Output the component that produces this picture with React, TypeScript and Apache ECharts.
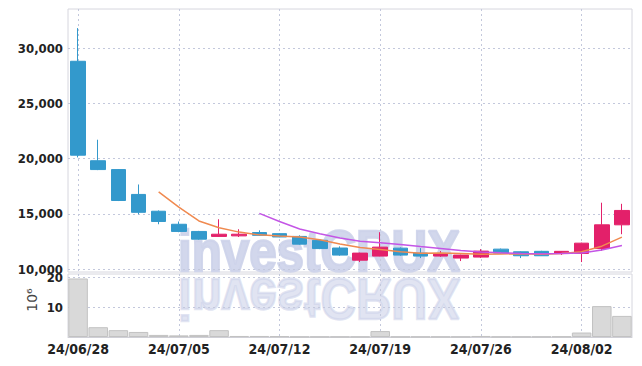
import React, { useEffect, useRef } from 'react';
import * as echarts from 'echarts';

const dates = [
  '24/06/28', '24/07/01', '24/07/02', '24/07/03', '24/07/04', '24/07/05',
  '24/07/08', '24/07/09', '24/07/10', '24/07/11', '24/07/12',
  '24/07/15', '24/07/16', '24/07/17', '24/07/18', '24/07/19',
  '24/07/22', '24/07/23', '24/07/24', '24/07/25', '24/07/26',
  '24/07/29', '24/07/30', '24/07/31', '24/08/01', '24/08/02',
  '24/08/05', '24/08/06',
];
const opens = [28800, 19800, 19000, 16750, 15230, 14050, 13400, 12950, 13000, 13300, 13200, 12950, 12600, 11900, 10800, 11170, 11890, 11440, 11170, 10990, 11080, 11800, 11560, 11600, 11400, 11410, 11850, 14000];
const closes = [20300, 19000, 16200, 15130, 14300, 13400, 12700, 13150, 13150, 13050, 12900, 12250, 11850, 11260, 11440, 11980, 11260, 11170, 11350, 11260, 11620, 11440, 11200, 11200, 11600, 12340, 14000, 15300];
const lows = [20100, 18950, 16150, 14950, 14050, 13330, 12650, 12900, 12900, 13000, 12880, 12200, 11800, 11200, 10630, 11150, 11200, 10990, 11100, 10720, 11000, 11400, 10990, 11180, 11270, 10630, 11650, 13150];
const highs = [31800, 21700, 19050, 17650, 15300, 14300, 13450, 14500, 13600, 13500, 13250, 13050, 12650, 12050, 11480, 13330, 11950, 11890, 11620, 11300, 11800, 11850, 11600, 11650, 11620, 12380, 16000, 15900];
const volumes = [19.7, 3.3, 2.3, 1.7, 0.7, 0.55, 0.7, 2.3, 0.35, 0.35, 0.25, 0.1, 0.1, 0.1, 0.1, 2.0, 0.1, 0.1, 0.1, 0.1, 0.35, 0.1, 0.1, 0.1, 0.15, 1.5, 10.4, 7.1];
const priceTicks = [10000, 15000, 20000, 25000, 30000];
const volumeTicks = [10, 20];

function movingAverage(n: number): (number | string)[] {
  return closes.map((_, i) => {
    if (i < n - 1) return '-';
    let s = 0;
    for (let k = i - n + 1; k <= i; k++) s += closes[k];
    return s / n;
  });
}

const FONT = '"DejaVu Sans Condensed", "Liberation Sans", sans-serif';
const GRID_LINE = { show: true, lineStyle: { color: '#c3c8dc', type: [2, 3] as any, width: 1 } };
const WM_FONT = 'bold 58px "Liberation Sans", Arial, sans-serif';
const WM_STYLE = { text: 'investCRUX', font: WM_FONT, fill: '#cdd3ea', stroke: '#cdd3ea', lineWidth: 2.5, align: 'center', verticalAlign: 'bottom' };

export default function App() {
  const ref = useRef<HTMLDivElement>(null);
  useEffect(() => {
    if (!ref.current) return;
    const chart = echarts.init(ref.current, null, { renderer: 'svg' });
    const every5 = (i: number) => i % 5 === 0;
    const labelStyle = { fontFamily: FONT, fontSize: 13, fontWeight: 'bold', color: '#222', margin: 5 };
    chart.setOption({
      animation: false,
      backgroundColor: '#ffffff',
      grid: [
        { left: 68, right: 10, top: 9, height: 263, show: true, borderColor: '#d6d6de', borderWidth: 1, backgroundColor: 'transparent' },
        { left: 68, right: 10, top: 274, height: 63, show: true, borderColor: '#d6d6de', borderWidth: 1, backgroundColor: 'transparent' },
      ],
      xAxis: [
        {
          type: 'category', gridIndex: 0, data: dates, boundaryGap: true,
          axisLine: { show: false }, axisTick: { show: false }, axisLabel: { show: false },
          splitLine: { ...GRID_LINE, interval: every5, alignWithLabel: true },
        },
        {
          type: 'category', gridIndex: 1, data: dates, boundaryGap: true,
          axisLine: { show: true, lineStyle: { color: '#cfcfd6' } }, axisTick: { show: false },
          axisLabel: { show: true, interval: every5, ...labelStyle, fontSize: 14, margin: 5 },
          splitLine: { ...GRID_LINE, interval: every5, alignWithLabel: true },
        },
      ],
      yAxis: [
        {
          type: 'value', gridIndex: 0, min: 9730, max: 33530,
          axisLine: { show: false }, axisTick: { show: false, customValues: priceTicks },
          axisLabel: {
            customValues: priceTicks, ...labelStyle,
            formatter: (v: number) => v.toLocaleString('en-US'),
          },
          splitLine: GRID_LINE,
        },
        {
          type: 'value', gridIndex: 1, min: 0, max: 21.2,
          axisLine: { show: false }, axisTick: { show: false, customValues: volumeTicks },
          axisLabel: { customValues: volumeTicks, ...labelStyle },
          splitLine: GRID_LINE,
        },
      ],
      graphic: [
        {
          type: 'text', x: 319, y: 280, scaleX: 0.85, z: 0, silent: true,
          style: { ...WM_STYLE, opacity: 0.9 },
        },
        {
          type: 'text', x: 319, y: 270, scaleX: 0.85, scaleY: -1, z: 0, silent: true,
          style: { ...WM_STYLE, opacity: 0.6 },
        },
        {
          type: 'text', x: 32, y: 300, rotation: Math.PI / 2, z: 10,
          style: { text: '10⁶', font: '14px "DejaVu Sans", sans-serif', fill: '#444', align: 'center', verticalAlign: 'middle' },
        },
      ],
      series: [
        {
          type: 'candlestick', xAxisIndex: 0, yAxisIndex: 0, barWidth: 15,
          data: dates.map((_, i) => [opens[i], closes[i], lows[i], highs[i]]),
          itemStyle: { color: '#e3206a', color0: '#3399cc', borderColor: '#e3206a', borderColor0: '#3399cc', borderWidth: 1 },
          z: 3,
        },
        {
          type: 'line', xAxisIndex: 0, yAxisIndex: 0, data: movingAverage(5), showSymbol: false, symbol: 'none',
          lineStyle: { color: '#f08a50', width: 1.5 }, z: 4,
        },
        {
          type: 'line', xAxisIndex: 0, yAxisIndex: 0, data: movingAverage(10), showSymbol: false, symbol: 'none',
          lineStyle: { color: '#c455e6', width: 1.5 }, z: 4,
        },
        {
          type: 'bar', xAxisIndex: 1, yAxisIndex: 1, data: volumes, barCategoryGap: '3%',
          itemStyle: { color: '#d9d9d9', borderColor: '#c2c2c2', borderWidth: 1 }, z: 3,
        },
      ],
    });
    return () => chart.dispose();
  }, []);
  return <div ref={ref} style={{ width: 642, height: 366, position: 'absolute', left: 0, top: 0 }} />;
}
